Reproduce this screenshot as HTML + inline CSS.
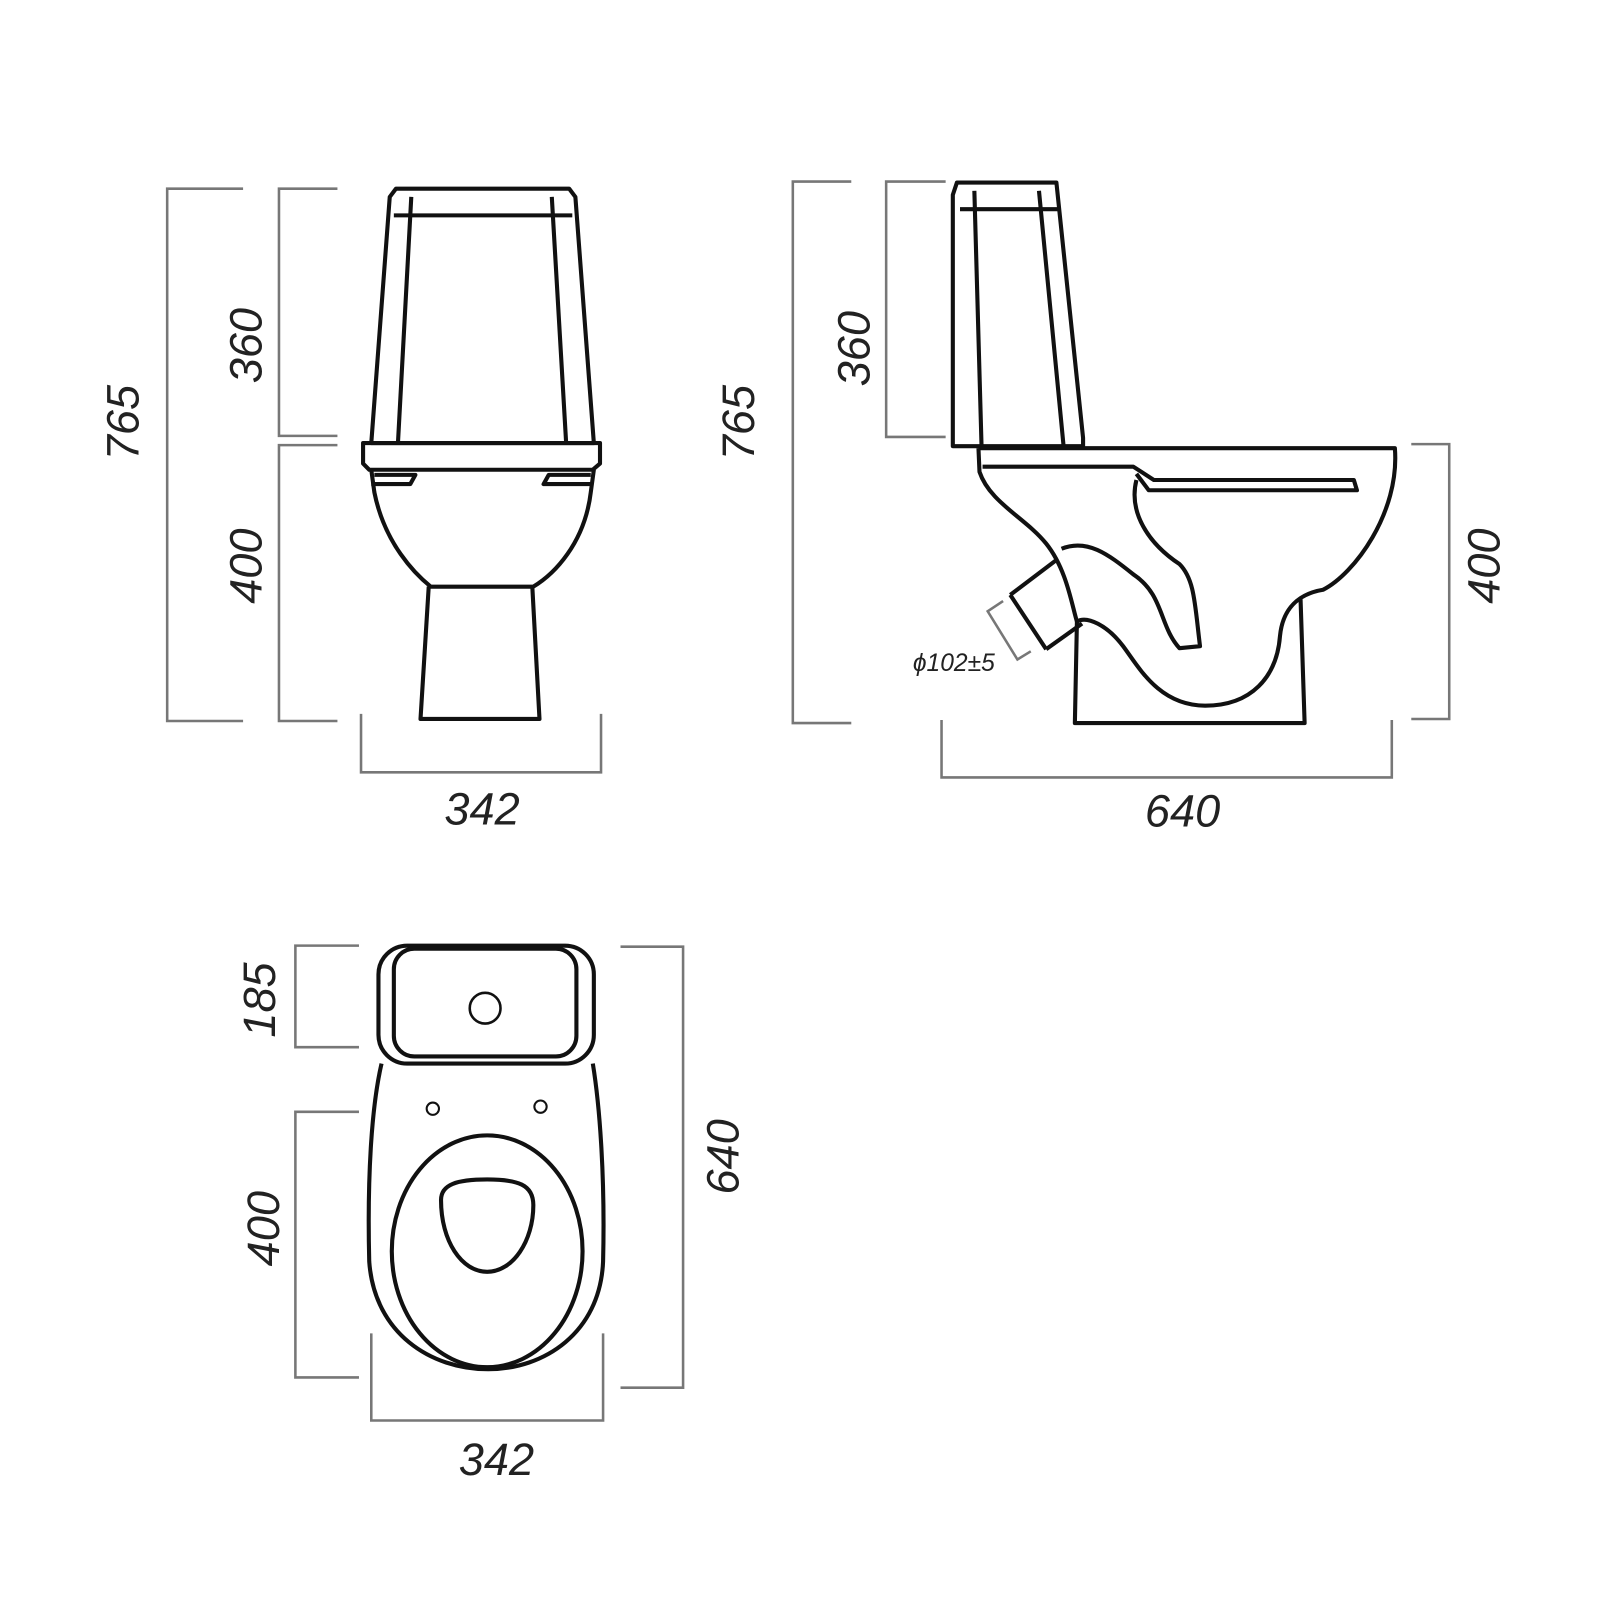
<!DOCTYPE html>
<html><head><meta charset="utf-8"><style>
html,body{margin:0;padding:0;background:#fff;width:1600px;height:1600px;overflow:hidden}
text{font-family:"Liberation Sans",sans-serif;font-style:italic;fill:#222}
</style></head><body>
<svg width="1600" height="1600" viewBox="0 0 1560 1560" xmlns="http://www.w3.org/2000/svg">
<g fill="none" stroke="#777" stroke-width="2.5">
<path d="M237,184 H163 V703 H237"/>
<path d="M329,184 H272 V425 H329"/>
<path d="M329,434 H272 V703 H329"/>
<path d="M352,696 V753 H586 V696"/>
<path d="M830,177 H773 V705 H830"/>
<path d="M922,177 H864 V426 H922"/>
<path d="M1376,433 H1413 V701 H1376"/>
<path d="M918,702 V758 H1357 V702"/>
<path d="M978,586 L963,596 L992,643 L1005,635"/>
<path d="M350,922 H288 V1021 H350"/>
<path d="M350,1084 H288 V1343 H350"/>
<path d="M605,923 H666 V1353 H605"/>
<path d="M362,1300 V1385 H588 V1300"/>
</g>
<g fill="none" stroke="#111" stroke-width="4" stroke-linejoin="round">
<path d="M386,184 L555,184 L561,192 L579,432 L362,432 L380,192 Z"/>
<path d="M384,210 H558"/>
<path d="M401,192 L388,432 M538,192 L552,432"/>
<path d="M354,432 H585 V452 L578,458 H360 L354,452 Z"/>
<path d="M362,458 L365,480 C375,530 405,560 420,572 H520 C540,560 570,530 576,480 L579,458"/>
<path d="M365,463 H405 L400,472 H362"/>
<path d="M576,463 H535 L530,472 H577"/>
<path d="M418,572 L410,701 H526 L519,572"/>
<path d="M933,178 H1030 L1056,427 V435 H929 V190 Z"/>
<path d="M936,204 H1032 M950,186 L957,435 M1013,186 L1037,435"/>
<path d="M954,437 H1360 C1365,500 1320,560 1290,575 C1260,580 1250,600 1248,620 C1245,660 1220,688 1175,688 C1130,688 1110,650 1095,630 C1080,610 1060,600 1050,606 L1048,705 H1272 L1268,583"/>
<path d="M954,437 L955,460 C965,490 1000,505 1020,530 C1040,555 1045,590 1050,606"/>
<path d="M958,455 H1105 L1125,468 H1320 L1323,478 H1120 L1108,462"/>
<path d="M1108,468 C1100,500 1120,530 1150,550 C1165,565 1165,590 1170,630 L1150,632 C1130,610 1135,580 1105,560 C1080,540 1060,525 1035,535"/>
<path d="M985,580 L1030,546 M1020,633 L1055,608 M985,580 L1020,633"/>
<rect x="369" y="922" width="210" height="115" rx="28"/>
<rect x="384" y="925" width="178" height="105" rx="20"/>
<circle cx="473" cy="983" r="15" stroke-width="2.5"/>
<path d="M372,1037 C362,1080 358,1150 360,1230 C365,1300 420,1335 476,1335 C530,1335 585,1300 588,1230 C590,1150 585,1080 578,1037"/>
<ellipse cx="475" cy="1220" rx="93" ry="113"/>
<path d="M430,1170 C430,1155 445,1150 475,1150 C505,1150 520,1155 520,1175 C520,1210 500,1240 475,1240 C450,1240 430,1210 430,1170 Z"/>
<circle cx="422" cy="1081" r="6" stroke-width="2"/>
<circle cx="527" cy="1079" r="6" stroke-width="2"/>
</g>
<g font-size="44">
<text transform="translate(135,412) rotate(-90)" text-anchor="middle">765</text>
<text transform="translate(255,337) rotate(-90)" text-anchor="middle">360</text>
<text transform="translate(255,552) rotate(-90)" text-anchor="middle">400</text>
<text x="470" y="804" text-anchor="middle">342</text>
<text transform="translate(735,412) rotate(-90)" text-anchor="middle">765</text>
<text transform="translate(848,340) rotate(-90)" text-anchor="middle">360</text>
<text transform="translate(1462,552) rotate(-90)" text-anchor="middle">400</text>
<text x="1153" y="806" text-anchor="middle">640</text>
<text transform="translate(268,975) rotate(-90)" text-anchor="middle">185</text>
<text transform="translate(272,1198) rotate(-90)" text-anchor="middle">400</text>
<text transform="translate(720,1128) rotate(-90)" text-anchor="middle">640</text>
<text x="484" y="1438" text-anchor="middle">342</text>
</g>
<text x="930" y="654" font-size="24" text-anchor="middle">ϕ102±5</text>
</svg>
</body></html>
